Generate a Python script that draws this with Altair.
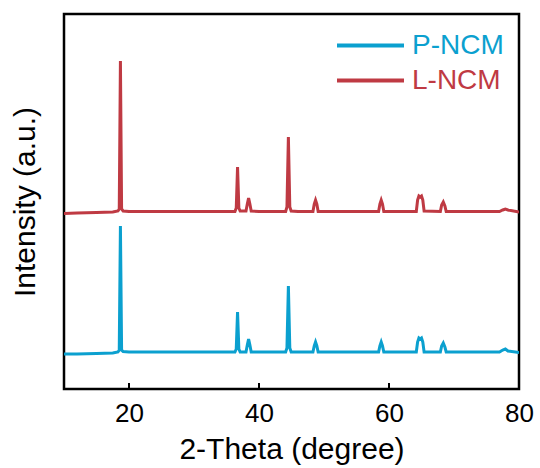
import altair as alt
import pandas as pd

# ---- data ----
SERIES = ["P-NCM", "L-NCM"]
COLORS = ["#0BA0CF", "#BF3A43"]

P_X = [10, 12, 15, 17.5, 18.3, 18.5, 18.68, 18.86, 19.1, 20, 25, 30, 35,
       36.3, 36.5, 36.7, 36.9, 37.1, 38.0, 38.2, 38.4, 38.6, 38.8, 40, 43,
       44.1, 44.3, 44.52, 44.74, 44.95, 46, 48.3, 48.5, 48.7, 48.9, 49.1,
       52, 55, 58.4, 58.6, 58.8, 59.0, 59.2, 62, 64.2, 64.4, 64.6, 64.8,
       65.0, 65.2, 65.4, 67.9, 68.1, 68.35, 68.6, 68.8, 72, 75, 77.0, 77.5,
       77.9, 78.3, 80]
P_Y = [-1, -1, -0.5, 0, 1, 3, 127, 3, 1.5, 1, 1, 1, 1,
       1, 4, 41, 4, 1, 1, 8, 14, 8, 1, 1, 1,
       1, 5, 67, 5, 1, 1, 1, 7, 11, 7, 1,
       1, 1, 1, 7, 11, 7, 1, 1, 1, 11, 15, 14,
       15, 11, 1, 1, 7, 10, 6, 1, 1, 1, 1, 3,
       4, 2, 0.5]

L_X = [10, 12, 15, 17.5, 18.3, 18.5, 18.68, 18.86, 19.1, 20, 25, 30, 35,
       36.3, 36.5, 36.7, 36.9, 37.1, 38.0, 38.2, 38.4, 38.6, 38.8, 40, 43,
       44.1, 44.3, 44.52, 44.74, 44.95, 46, 48.3, 48.5, 48.7, 48.9, 49.1,
       52, 55, 58.4, 58.6, 58.8, 59.0, 59.2, 62, 64.2, 64.4, 64.6, 64.8,
       65.0, 65.2, 65.4, 67.9, 68.1, 68.35, 68.6, 68.8, 72, 75, 77.0, 77.5,
       77.9, 78.3, 80]
L_Y = [-1.5, -1, -0.5, 0, 1, 3, 151, 3, 1, 0.5, 0.5, 0.5, 0.5,
       0.5, 4, 45, 4, 1, 1, 8, 14, 8, 1, 0.5, 0.5,
       0.5, 5, 75, 5, 1, 0.5, 0.5, 8, 12, 8, 0.5,
       0.5, 0.5, 0.5, 8, 12, 8, 0.5, 0.5, 0.5, 12, 16, 15,
       16, 12, 1, 0.5, 7, 10, 6, 0.5, 0.5, 0.5, 0.5, 2,
       3, 2, 0]

L_OFFSET = 141  # vertical stacking offset of the L-NCM pattern

X_TICKS = [20, 40, 60, 80]

FONT = "Liberation Sans"

rows = []
for x, y in zip(P_X, P_Y):
    rows.append({"theta": x, "intensity": y, "sample": "P-NCM"})
for x, y in zip(L_X, L_Y):
    rows.append({"theta": x, "intensity": y + L_OFFSET, "sample": "L-NCM"})
df = pd.DataFrame(rows)
ticks_df = pd.DataFrame({"theta": X_TICKS})

W, H = 455, 375

x_scale = alt.Scale(domain=[10, 80], nice=False, zero=False)
y_scale = alt.Scale(domain=[-36, 339], nice=False, zero=False)

label_color_expr = "datum.value == '%s' ? '%s' : '%s'" % (SERIES[0], COLORS[0], COLORS[1])

lines = alt.Chart(df).mark_line(strokeWidth=3, clip=True).encode(
    x=alt.X("theta:Q", scale=x_scale,
            axis=alt.Axis(title="2-Theta (degree)", values=X_TICKS, format="d",
                          domain=False, ticks=False, grid=False,
                          labelFontSize=26, labelFont=FONT, labelColor="black",
                          labelPadding=11, labelFlush=False,
                          titleFontSize=30, titleFont=FONT, titleColor="black",
                          titleFontWeight="normal", titlePadding=8)),
    y=alt.Y("intensity:Q", scale=y_scale,
            axis=alt.Axis(title="Intensity (a.u.)", labels=False, ticks=False,
                          domain=False, grid=False,
                          titleFontSize=30, titleFont=FONT, titleColor="black",
                          titleFontWeight="normal", titlePadding=24)),
    color=alt.Color("sample:N",
                    scale=alt.Scale(domain=SERIES, range=COLORS),
                    legend=alt.Legend(title=None, orient="none",
                                      legendX=271, legendY=14,
                                      symbolType="stroke", symbolSize=4489,
                                      symbolStrokeWidth=4,
                                      labelFontSize=28, labelFont=FONT,
                                      labelOffset=6, rowPadding=0,
                                      clipHeight=35,
                                      labelColor=alt.ExprRef(label_color_expr))),
    detail="sample:N",
)

tick_marks = alt.Chart(ticks_df).mark_rule(color="black", strokeWidth=2).encode(
    x=alt.X("theta:Q", scale=x_scale),
    y=alt.value(H),
    y2=alt.value(H - 6),
)

chart = alt.layer(lines, tick_marks).properties(
    width=W, height=H,
    background="white",
    autosize=alt.AutoSizeParams(type="none"),
    padding={"left": 64, "top": 14, "right": 21, "bottom": 79},
).configure_view(stroke="black", strokeWidth=2.5)

chart.save("out.html", embed_options={"renderer": "svg", "actions": False})
